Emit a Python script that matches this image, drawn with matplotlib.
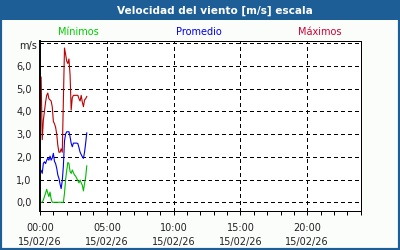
import numpy as np
import matplotlib
matplotlib.use('Agg')
from matplotlib import pyplot as plt
from matplotlib.patches import Rectangle

# muestras cada 5 minutos (en horas)
horas = np.arange(5, 215, 5) / 60.0

maximos = [5.5, 2.75, 3.6, 4.0, 4.4, 4.7, 4.8, 4.55, 4.5, 4.45, 4.2, 3.55, 3.45, 3.3,
           3.0, 2.5, 2.2, 2.2, 2.35, 2.2, 4.5, 6.78, 6.5, 6.2, 6.1, 6.3, 5.6, 4.05,
           4.6, 4.7, 4.7, 4.7, 4.7, 4.7, 4.55, 4.45, 4.7, 4.4, 4.2, 4.5, 4.55, 4.65]
promedio = [1.4, 1.27, 1.71, 1.78, 1.7, 1.85, 1.93, 1.85, 2.03, 1.85, 1.95, 2.15, 1.8, 1.7,
            1.5, 1.2, 1.05, 0.8, 0.6, 0.95, 1.6, 2.7, 3.0, 3.1, 3.1, 3.1, 2.88, 2.59,
            2.44, 2.6, 2.6, 2.6, 2.6, 2.58, 2.4, 2.2, 2.1, 2.0, 1.93, 2.2, 2.6, 3.05]
minimos = [0.0, 0.0, 0.1, 0.25, 0.4, 0.57, 0.4, 0.25, 0.45, 0.15, 0.0, 0.0, 0.0, 0.0,
           0.0, 0.0, 0.0, 0.0, 0.0, 0.0, 0.0, 0.4, 1.0, 1.4, 1.75, 1.7, 1.35, 1.27,
           1.42, 1.3, 1.2, 1.15, 1.05, 0.95, 0.85, 0.98, 0.85, 0.75, 0.5, 0.83, 1.1, 1.6]

xticks = [0, 5, 10, 15, 20]
xlabels = ['00:00\n15/02/26', '05:00\n15/02/26', '10:00\n15/02/26',
           '15:00\n15/02/26', '20:00\n15/02/26']
yticks = [0, 1, 2, 3, 4, 5, 6]
ylabels = ['0,0', '1,0', '2,0', '3,0', '4,0', '5,0', '6,0']

azul = '#1d5e97'
W, H = 400, 250

fig = plt.figure(figsize=(4, 2.5), dpi=100)
fig.patch.set_facecolor('#fbfdfb')

# marco y barra de titulo
fig.add_artist(Rectangle((0, 1 - 20 / H), 1, 20 / H, transform=fig.transFigure,
                         facecolor=azul, edgecolor='none'))
fig.add_artist(Rectangle((0, 0), 1, 1, transform=fig.transFigure,
                         facecolor='none', edgecolor=azul, linewidth=3))
fig.text(215 / W, 1 - 10.5 / H, 'Velocidad del viento [m/s] escala', color='white',
         fontsize=7.6, fontweight='bold', ha='center', va='center')

fig.text(78 / W, 1 - 32 / H, 'Mínimos', color='#00cc00', fontsize=7, ha='center', va='center')
fig.text(199 / W, 1 - 32 / H, 'Promedio', color='#0000ee', fontsize=7, ha='center', va='center')
fig.text(320 / W, 1 - 32 / H, 'Máximos', color='#cc0033', fontsize=7, ha='center', va='center')
fig.text(37 / W, 1 - 46 / H, 'm/s', color='#222222', fontsize=7, ha='right', va='center')

ax = fig.add_axes([40 / W, 1 - 210.7 / H, 320.7 / W, 170.2 / H])
ax.set_facecolor('white')

ax.plot(horas, minimos, color='#00bb00', linewidth=0.8)
ax.plot(horas, promedio, color='#0000ee', linewidth=0.8)
ax.plot(horas, maximos, color='#bb0000', linewidth=0.8)

ax.set_xlim(0, 24)
ax.set_ylim(-0.37, 7.11)

for v in [5, 10, 15, 20]:
    ax.axvline(v, color='black', linewidth=0.72, linestyle=(0, (4, 3)), zorder=0,
               antialiased=False)
for v in range(0, 8):
    ax.axhline(v, color='black', linewidth=0.72, linestyle=(0, (4, 3)), zorder=0,
               antialiased=False)

ax.set_xticks(xticks)
ax.set_xticklabels(xlabels, fontsize=7, color='#222222', linespacing=1.5)
ax.set_xticks(range(0, 25), minor=True)
ax.tick_params(axis='x', which='both', direction='out', length=3, width=0.72, pad=6)
ax.set_yticks(yticks)
ax.set_yticklabels(ylabels, fontsize=7, color='#222222')
ax.tick_params(axis='y', length=0, pad=6)

for s in ['top', 'right', 'bottom']:
    ax.spines[s].set_linewidth(0.72)
ax.spines['left'].set_linewidth(1.4)

fig.savefig('out.png', dpi=100, facecolor=fig.get_facecolor())
